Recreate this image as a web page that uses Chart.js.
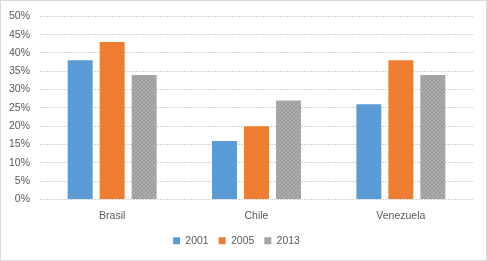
<!DOCTYPE html>
<html><head><meta charset="utf-8">
<script src="https://cdn.jsdelivr.net/npm/chart.js@4/dist/chart.umd.min.js"></script>
<style>html,body{margin:0;padding:0;background:#fff}#wrap{width:487px;height:261px;position:relative}</style>
</head><body><div id="wrap"><canvas id="c" width="487" height="261"></canvas></div>
<script>
const categories = ['Brasil', 'Chile', 'Venezuela'];
const seriesNames = ['2001', '2005', '2013'];
const values2001 = [38, 16, 26];
const values2005 = [43, 20, 38];
const values2013 = [34, 27, 34];

function grayPattern(){
  const p = document.createElement('canvas'); p.width = 4; p.height = 4;
  const g = p.getContext('2d');
  const cols = ['#9e9e9e','#b4b4b4','#aaaaaa','#969696'];
  const map = [0,1,2,3, 2,3,1,0, 1,0,3,2, 3,2,0,1];
  for (let i=0;i<16;i++){ g.fillStyle = cols[map[i]]; g.fillRect(i%4, Math.floor(i/4), 1, 1); }
  return g.createPattern(p, 'repeat');
}
const ctx = document.getElementById('c').getContext('2d');
const pat = grayPattern();
const font = {family: 'Liberation Sans, Arial, sans-serif', size: 10.5};
const frame = {
  id: 'frame',
  afterDraw(chart){
    const c = chart.ctx; c.save(); c.strokeStyle = '#d9d9d9'; c.lineWidth = 1;
    c.strokeRect(0.5, 0.5, chart.width - 1, chart.height - 1); c.restore();
  }
};
new Chart(ctx, {
  type: 'bar',
  data: {
    labels: categories,
    datasets: [
      {label: seriesNames[0], data: values2001, backgroundColor: '#5b9bd5'},
      {label: seriesNames[1], data: values2005, backgroundColor: '#ed7d31'},
      {label: seriesNames[2], data: values2013, backgroundColor: pat}
    ]
  },
  options: {
    responsive: false, animation: false,
    layout: {padding: {top: 13, right: 14, bottom: 5, left: 0}},
    datasets: {bar: {categoryPercentage: 0.665, barPercentage: 0.78}},
    plugins: {
      tooltip: {enabled: false},
      legend: {position: 'bottom', labels: {boxWidth: 7, boxHeight: 7, padding: 10, color: '#595959', font: font}}
    },
    scales: {
      x: {
        grid: {display: false}, border: {display: false},
        ticks: {color: '#595959', font: font, padding: 2},
        afterFit(s){ s.height = 26; }
      },
      y: {
        min: 0, max: 50,
        grid: {color: '#d4d4d4', drawTicks: false},
        border: {display: false, dash: [2, 1]},
        ticks: {stepSize: 5, color: '#595959', font: font, padding: 10, callback: v => v + '%'},
        afterFit(s){ s.width = 40; }
      }
    }
  },
  plugins: [frame]
});
</script></body></html>
